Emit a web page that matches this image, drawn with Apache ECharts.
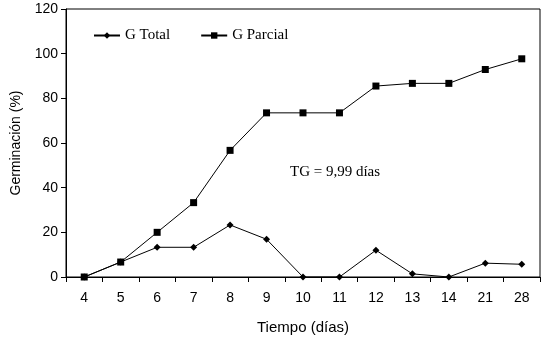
<!DOCTYPE html>
<html>
<head>
<meta charset="utf-8">
<script src="https://cdn.jsdelivr.net/npm/echarts@6/dist/echarts.min.js"></script>
<style>
  html, body { margin: 0; padding: 0; background: #fff; }
  #chart { width: 543px; height: 340px; }
</style>
</head>
<body>
<div id="chart"></div>
<script>
const days = ['4', '5', '6', '7', '8', '9', '10', '11', '12', '13', '14', '21', '28']
const gTotal = [0, 6.7, 13.3, 13.3, 23.3, 16.9, 0, 0, 12, 1.4, 0, 6.2, 5.7]
const gParcial = [0, 6.7, 20, 33.3, 56.7, 73.5, 73.5, 73.5, 85.5, 86.7, 86.7, 92.9, 97.7]
const yTicks = { min: 0, max: 120, interval: 20 }

const SERIF = '"Liberation Serif", "DejaVu Serif", serif'
const SANS = '"Liberation Sans", Arial, sans-serif'

const chart = echarts.init(document.getElementById('chart'), null, { renderer: 'canvas' })

chart.setOption({
    animation: false,
    backgroundColor: '#fff',
    grid: {
        left: 66, right: 3, top: 9, bottom: 62,
        show: true, borderColor: '#000', borderWidth: 1,
    },
    legend: {
        left: 88, top: 23,
        itemWidth: 26, itemHeight: 8, itemGap: 30,
        textStyle: { fontFamily: SERIF, fontSize: 15, color: '#000' },
        data: ['G Total', 'G Parcial'],
    },
    xAxis: {
        type: 'category',
        data: days,
        boundaryGap: true,
        name: 'Tiempo (días)',
        nameLocation: 'middle',
        nameGap: 43,
        nameTextStyle: { fontFamily: SANS, fontSize: 15, color: '#000' },
        axisLine: { lineStyle: { color: '#000', width: 1 } },
        axisTick: { show: true, length: 5, lineStyle: { color: '#000' } },
        axisLabel: { fontFamily: SANS, fontSize: 14, color: '#000', margin: 14 },
        splitLine: { show: false },
    },
    yAxis: {
        type: 'value',
        min: yTicks.min, max: yTicks.max, interval: yTicks.interval,
        name: 'Germinación (%)',
        nameLocation: 'middle',
        nameGap: 43,
        nameTextStyle: { fontFamily: SANS, fontSize: 14, color: '#000' },
        axisLine: { show: true, lineStyle: { color: '#000', width: 1 } },
        axisTick: { show: true, length: 5, lineStyle: { color: '#000' } },
        axisLabel: { fontFamily: SANS, fontSize: 14, color: '#000', margin: 8 },
        splitLine: { show: false },
    },
    series: [
        {
            name: 'G Total',
            type: 'line',
            data: gTotal,
            symbol: 'diamond',
            symbolSize: 7,
            lineStyle: { color: '#000', width: 1 },
            itemStyle: { color: '#000' },
        },
        {
            name: 'G Parcial',
            type: 'line',
            data: gParcial,
            symbol: 'rect',
            symbolSize: 7,
            lineStyle: { color: '#000', width: 1 },
            itemStyle: { color: '#000' },
        },
    ],
    graphic: [
        {
            type: 'text',
            left: 290, top: 165,
            style: { text: 'TG = 9,99 días', fontFamily: SERIF, fontSize: 15, fill: '#000' },
        },
    ],
})
</script>
</body>
</html>
